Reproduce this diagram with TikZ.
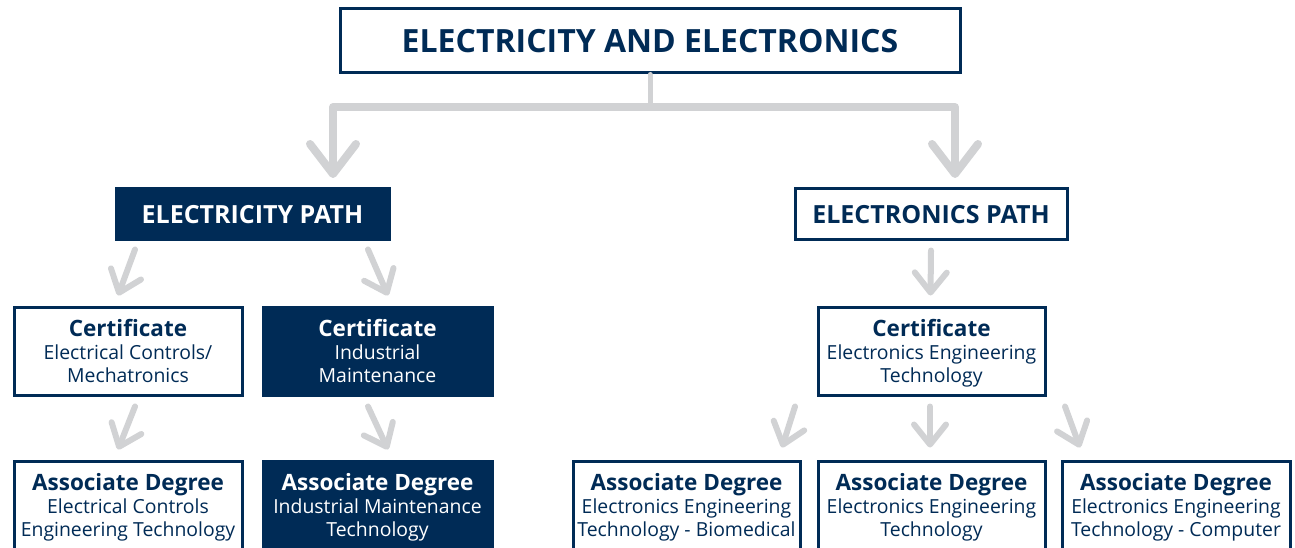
\documentclass[tikz,border=0pt]{standalone}
\usepackage{fontspec}
\setmainfont{Open Sans}
\usepackage{xcolor}
\definecolor{colorNavy}{RGB}{0,43,86}
\definecolor{colorArrow}{RGB}{209,210,212}
\usetikzlibrary{arrows.meta, positioning}
\tikzset{boxOpen/.style={draw=colorNavy, line width=3pt, fill=white, text=colorNavy, align=center, inner sep=0pt, text depth=0pt, minimum width=228pt, minimum height=88pt, font=\fontsize{19.4}{23}\selectfont}}
\tikzset{boxFull/.style={boxOpen, fill=colorNavy, text=white}}
\tikzset{flowBig/.style={draw=colorArrow, line width=8pt, line cap=round, line join=round, -{Straight Barb[length=30pt, width=46pt, round]}}}
\tikzset{flowSmall/.style={draw=colorArrow, line width=6pt, line cap=round, -{Straight Barb[length=20pt, width=32pt, round]}}}
\newcommand{\headA}[1]{{\fontsize{22.5}{24}\selectfont\bfseries #1}}

\begin{document}
\begin{tikzpicture}[x=1pt, y=-1pt]
\useasboundingbox (0,0) rectangle (1295,548);
\node[boxOpen, minimum width=620pt, minimum height=64pt, font=\fontsize{32}{34}\selectfont\bfseries] (title) at (650,41) {ELECTRICITY AND ELECTRONICS};
\node[boxFull, minimum width=273pt, minimum height=50pt, font=\fontsize{25}{27}\selectfont\bfseries] (elecPath) at (252.5,214) {ELECTRICITY PATH};
\node[boxOpen, minimum width=272pt, minimum height=50pt, font=\fontsize{25}{27}\selectfont\bfseries] (tronPath) at (931,214) {ELECTRONICS PATH};
\node[boxOpen] (cert1) at (128,351) {\headA{Certificate}\\Electrical Controls/\\Mechatronics};
\node[boxFull, minimum width=229pt] (cert2) at (377.5,351) {\headA{Certificate}\\Industrial\\Maintenance};
\node[boxOpen, minimum width=227pt] (cert3) at (931.5,351) {\headA{Certificate}\\Electronics Engineering\\Technology};
\node[boxOpen] (deg1) at (128,505) {\headA{Associate Degree}\\Electrical Controls\\Engineering Technology};
\node[boxFull, minimum width=229pt] (deg2) at (377.5,505) {\headA{Associate Degree}\\Industrial Maintenance\\Technology};
\node[boxOpen, minimum width=227pt] (deg3) at (686.5,505) {\headA{Associate Degree}\\Electronics Engineering\\Technology - Biomedical};
\node[boxOpen, minimum width=227pt] (deg4) at (931.5,505) {\headA{Associate Degree}\\Electronics Engineering\\Technology};
\node[boxOpen] (deg5) at (1176,505) {\headA{Associate Degree}\\Electronics Engineering\\Technology - Computer};
% split under the title
\coordinate (barL) at (333,107);
\coordinate (barR) at (955,107);
\draw[colorArrow, line width=5pt, line cap=round] (title.south) -- (title.south |- barL);
\draw[flowBig] (title.south |- barL) -- (barL) -- (barL |- 0,178);
\draw[flowBig] (title.south |- barR) -- (barR) -- (barR |- 0,178);
% paths to certificates
\draw[flowSmall] ([xshift=-117.5pt, yshift=-9pt]elecPath.south) -- ([xshift=-10pt, yshift=10pt]cert1.north);
\draw[flowSmall] ([xshift=115.5pt, yshift=-9pt]elecPath.south) -- ([xshift=10.5pt, yshift=10pt]cert2.north);
\draw[flowSmall] ([xshift=0pt, yshift=-10pt]tronPath.south) -- ([xshift=-1pt, yshift=10pt]cert3.north);
% certificates to degrees
\draw[flowSmall] ([xshift=7pt, yshift=-10pt]cert1.south) -- ([xshift=-10pt, yshift=10pt]deg1.north);
\draw[flowSmall] ([xshift=-9.5pt, yshift=-10pt]cert2.south) -- ([xshift=10.5pt, yshift=10pt]deg2.north);
\draw[flowSmall] ([xshift=-136.5pt, yshift=-10pt]cert3.south) -- ([xshift=95.5pt, yshift=12pt]deg3.north);
\draw[flowSmall] ([xshift=-1.5pt, yshift=-10pt]cert3.south) -- ([xshift=-1.5pt, yshift=12pt]deg4.north);
\draw[flowSmall] ([xshift=133.5pt, yshift=-10pt]cert3.south) -- ([xshift=-96pt, yshift=12pt]deg5.north);
\end{tikzpicture}
\end{document}
